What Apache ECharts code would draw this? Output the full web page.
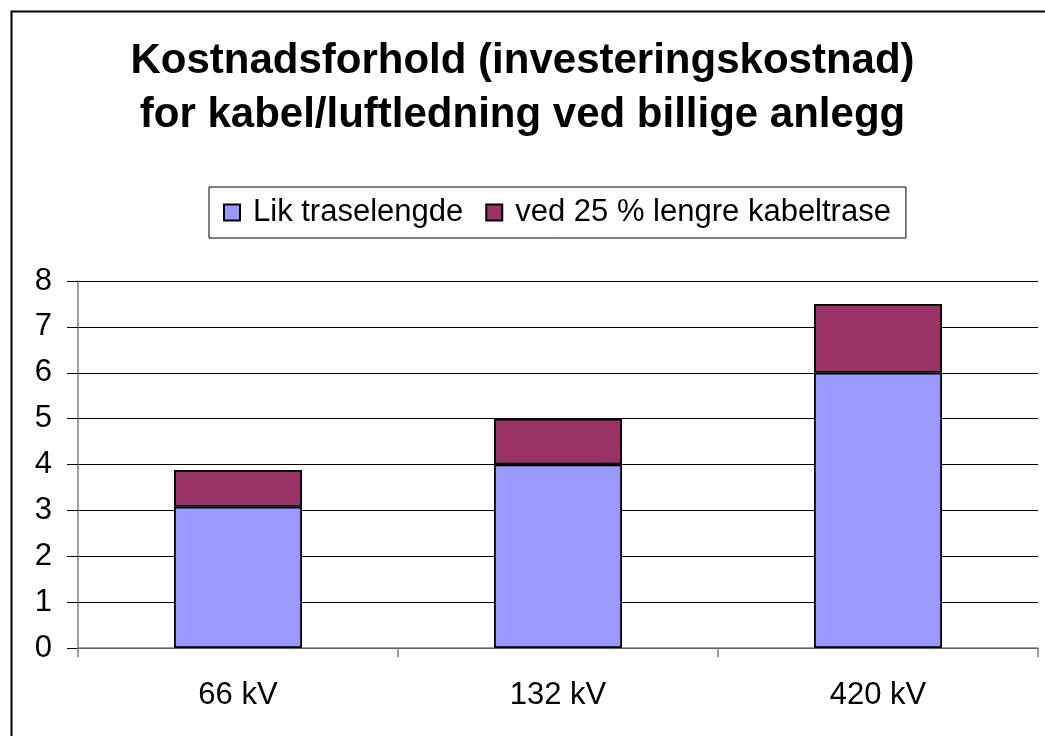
<!DOCTYPE html>
<html><head><meta charset="utf-8">
<script src="https://cdn.jsdelivr.net/npm/echarts@6/dist/echarts.min.js"></script>
<style>html,body{margin:0;padding:0;background:#fff}#c{width:1045px;height:736px}</style>
</head><body><div id="c"></div>
<script>
const categories = ['66 kV', '132 kV', '420 kV'];
const likTraselengde = [3.08, 4.0, 6.0];
const lengreKabeltrase = [0.8, 1.0, 1.5];
const yTicks = [0, 1, 2, 3, 4, 5, 6, 7, 8];
const seriesNames = ['Lik traselengde', 'ved 25 % lengre kabeltrase'];
const titleText = 'Kostnadsforhold (investeringskostnad)\nfor kabel/luftledning ved billige anlegg';

const FONT = '"Liberation Sans", Arial, sans-serif';
const chart = echarts.init(document.getElementById('c'), null, {renderer: 'canvas'});
chart.setOption({
  animation: false,
  backgroundColor: '#fff',
  graphic: [{
    type: 'rect', left: 9, top: 9, z: -1,
    shape: {width: 1100, height: 800},
    style: {fill: 'none', stroke: '#000', lineWidth: 2}
  }],
  title: {
    text: titleText, left: 'center', top: 29,
    textStyle: {fontFamily: FONT, fontWeight: 'bold', fontSize: 42, lineHeight: 54, color: '#000'}
  },
  legend: {
    top: 187, left: 209,
    data: seriesNames,
    icon: 'rect', itemWidth: 16, itemHeight: 16, itemGap: 22,
    borderColor: '#000', borderWidth: 1, padding: [8, 15, 8, 14],
    textStyle: {fontFamily: FONT, fontSize: 31, lineHeight: 35, color: '#000', padding: [0, 0, 0, 8]},
    itemStyle: {borderColor: '#000', borderWidth: 2}
  },
  grid: {left: 78, right: 7, top: 281, bottom: 88, containLabel: false},
  xAxis: {
    type: 'category', data: categories,
    axisLine: {lineStyle: {color: '#808080', width: 1.5}},
    axisTick: {show: true, length: 9, lineStyle: {color: '#808080', width: 1.5}},
    axisLabel: {fontFamily: FONT, fontSize: 31, color: '#000', margin: 32}
  },
  yAxis: {
    type: 'value', min: yTicks[0], max: yTicks[yTicks.length - 1], interval: 1,
    axisLine: {show: true, lineStyle: {color: '#808080', width: 1.5}},
    axisTick: {show: true, length: 11, lineStyle: {color: '#000', width: 1}},
    axisLabel: {fontFamily: FONT, fontSize: 31, color: '#000', margin: 26},
    splitLine: {show: true, lineStyle: {color: '#000', width: 1}}
  },
  series: [{
    name: seriesNames[0], type: 'bar', stack: 'a', data: likTraselengde,
    barWidth: '40%',
    itemStyle: {color: '#9999FF', borderColor: '#000', borderWidth: 1.8}
  }, {
    name: seriesNames[1], type: 'bar', stack: 'a', data: lengreKabeltrase,
    barWidth: '40%',
    itemStyle: {color: '#993366', borderColor: '#000', borderWidth: 1.8}
  }]
});
</script></body></html>
